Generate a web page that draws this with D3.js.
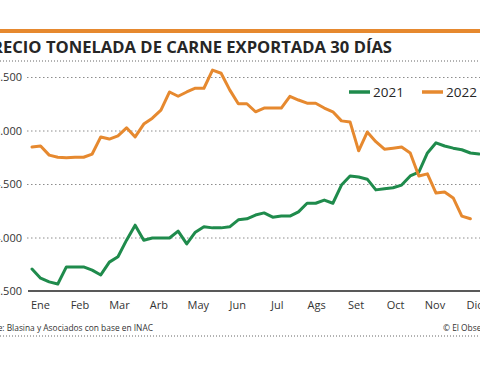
<!DOCTYPE html>
<html>
<head>
<meta charset="utf-8">
<script src="https://cdn.jsdelivr.net/npm/d3@7"></script>
<style>
  body { margin: 0; background: #fff; }
  svg { display: block; font-family: "Open Sans", sans-serif; }
</style>
</head>
<body>
<div id="chart"></div>
<script>
// Chart data (weekly)
var months = ["Ene", "Feb", "Mar", "Arb", "May", "Jun", "Jul", "Ags", "Set", "Oct", "Nov", "Dic"];
var yTicks = [3500, 4000, 4500, 5000, 5500];
var values2021 = [3705, 3620, 3585, 3565, 3725, 3725, 3725, 3695, 3650, 3770, 3820, 3975, 4115,
  3975, 3995, 3995, 3995, 4060, 3940, 4050, 4100, 4090, 4090, 4100, 4165, 4175, 4210, 4230,
  4190, 4200, 4200, 4240, 4320, 4320, 4350, 4320, 4490, 4575, 4565, 4545, 4445, 4455, 4465,
  4490, 4575, 4610, 4790, 4885, 4855, 4835, 4820, 4790, 4780];
var values2022 = [4845, 4855, 4770, 4750, 4745, 4750, 4750, 4780, 4940, 4920, 4950, 5025, 4940,
  5060, 5115, 5190, 5360, 5320, 5360, 5395, 5395, 5565, 5535, 5380, 5250, 5250, 5175, 5210,
  5210, 5210, 5320, 5285, 5255, 5255, 5210, 5175, 5090, 5080, 4810, 4985, 4895, 4825, 4835,
  4845, 4790, 4575, 4595, 4415, 4425, 4370, 4200, 4175];
var series = [
  { name: "2021", values: values2021, color: "#1f8b4c" },
  { name: "2022", values: values2022, color: "#e6892f" }
];

var svgWidth = 480;
var svgHeight = 365;

var svg = d3.select("#chart")
  .append("svg")
  .attr("width", svgWidth)
  .attr("height", svgHeight);

// header
svg.append("rect")
  .attr("x", 0).attr("y", 29)
  .attr("width", svgWidth).attr("height", 4)
  .attr("fill", "#e6892f");

svg.append("text")
  .attr("x", 392)
  .attr("y", 53)
  .attr("text-anchor", "end")
  .attr("font-size", 16.6)
  .attr("font-weight", 700)
  .attr("fill", "#262626")
  .text("PRECIO TONELADA DE CARNE EXPORTADA 30 DÍAS");

svg.append("line")
  .attr("x1", 0).attr("x2", svgWidth)
  .attr("y1", 61).attr("y2", 61)
  .attr("stroke", "#666")
  .attr("stroke-width", 1)
  .attr("stroke-dasharray", "1,2");

// scales
var x = d3.scaleLinear()
  .domain([0, 52])
  .range([32, 479]);

var y = d3.scaleLinear()
  .domain([3500, 5500])
  .range([291, 77]);

var monthX = d3.scalePoint()
  .domain(months)
  .range([40, 474]);

// y gridlines + labels
var yAxis = d3.axisLeft(y)
  .tickValues(yTicks)
  .tickSize(-(svgWidth - 27))
  .tickFormat(d => d3.format(",")(d).replace(",", "."));

var yG = svg.append("g")
  .attr("transform", "translate(27,0)")
  .call(yAxis);

yG.select(".domain").remove();
yG.selectAll(".tick line")
  .attr("stroke", "#8c8c8c")
  .attr("stroke-dasharray", "1.5,2.5")
  .filter(d => d === 3500).remove();
yG.selectAll(".tick text")
  .attr("x", -5)
  .attr("font-size", 11)
  .attr("font-family", "Open Sans, sans-serif")
  .attr("fill", "#333");

// baseline
svg.append("line")
  .attr("x1", 28).attr("x2", svgWidth)
  .attr("y1", y(3500)).attr("y2", y(3500))
  .attr("stroke", "#222")
  .attr("stroke-width", 1.6);

// month labels
var xAxis = d3.axisBottom(monthX).tickSize(0).tickPadding(10);
var xG = svg.append("g")
  .attr("transform", `translate(0, ${y(3500)})`)
  .call(xAxis);
xG.select(".domain").remove();
xG.selectAll(".tick text")
  .attr("font-size", 11)
  .attr("font-family", "Open Sans, sans-serif")
  .attr("fill", "#333");

// lines
var line = d3.line()
  .x((d, i) => x(i))
  .y(d => y(d))
  .curve(d3.curveLinear);

svg.selectAll(".series")
  .data(series)
  .enter()
  .append("path")
  .attr("class", "series")
  .attr("d", d => line(d.values))
  .attr("fill", "none")
  .attr("stroke", d => d.color)
  .attr("stroke-width", 3)
  .attr("stroke-linejoin", "round")
  .attr("stroke-linecap", "round");

// legend
var legendX = [349, 422];
var legend = svg.selectAll(".legend")
  .data(series)
  .enter()
  .append("g")
  .attr("class", "legend")
  .attr("transform", (d, i) => `translate(${legendX[i]}, 92)`);

legend.append("line")
  .attr("x1", 0).attr("x2", 21)
  .attr("stroke", d => d.color)
  .attr("stroke-width", 3.5);

legend.append("text")
  .attr("x", 24)
  .attr("y", 5)
  .attr("font-size", 13.5)
  .attr("fill", "#262626")
  .text(d => d.name);

// footer
svg.append("text")
  .attr("x", 153)
  .attr("y", 331)
  .attr("text-anchor", "end")
  .attr("font-size", 8.4)
  .attr("fill", "#333")
  .text("Fuente: Blasina y Asociados con base en INAC");

svg.append("text")
  .attr("x", 443)
  .attr("y", 331)
  .attr("font-size", 8.4)
  .attr("fill", "#333")
  .text("© El Observador");

svg.append("line")
  .attr("x1", 0).attr("x2", svgWidth)
  .attr("y1", 336).attr("y2", 336)
  .attr("stroke", "#666")
  .attr("stroke-width", 1)
  .attr("stroke-dasharray", "1,2");
</script>
</body>
</html>
